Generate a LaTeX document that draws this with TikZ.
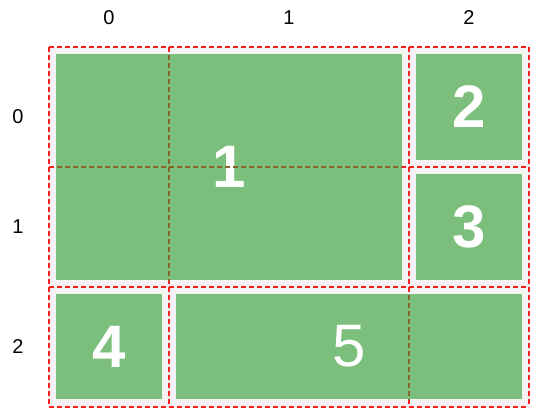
\documentclass[tikz,border=0pt]{standalone}
\usepackage{fontspec}
\setmainfont{Liberation Sans}
\begin{document}
\begin{tikzpicture}[x=1pt,y=-1pt,
  gridline/.style={draw=gridred,line width=1.2pt,dash pattern=on 5pt off 3pt},
  innerline/.style={draw=gridbrown,line width=1.2pt,dash pattern=on 5pt off 3pt},
  item/.style={fill=itemgreen,draw=none,inner sep=0pt,text=white,font=\fontsize{60}{60}\selectfont\bfseries},
  itemreg/.style={item,font=\fontsize{60}{60}\selectfont},
  axislabel/.style={font=\fontsize{20}{20}\selectfont,text=black,inner sep=0pt}]
\definecolor{gridred}{RGB}{255,30,30}
\definecolor{gridbrown}{RGB}{135,100,40}
\definecolor{itemgreen}{RGB}{124,191,124}
\definecolor{bggray}{RGB}{244,244,244}
\useasboundingbox (0,0) rectangle (544,420);
\fill[white] (0,0) rectangle (544,420);
\fill[bggray] (49,47) rectangle (529,407);
% grid lines
\foreach \gx in {49,169,409,529} \draw[gridline] (\gx,47) -- (\gx,407);
\foreach \gy in {47,167,287,407} \draw[gridline] (49,\gy) -- (529,\gy);
% items
\node[item,minimum width=346pt,minimum height=226pt] (i1) at (229,167) {1};
\node[item,minimum width=106pt,minimum height=106pt] (i2) at (469,107) {2};
\node[item,minimum width=106pt,minimum height=106pt] (i3) at (469,227) {3};
\node[item,minimum width=106pt,minimum height=105pt] (i4) at (109,346.5) {4};
\node[itemreg,minimum width=346pt,minimum height=105pt] (i5) at (349,346.5) {5};
% grid lines seen across the items
\begin{scope}
\clip (i1.south west) rectangle (i1.north east);
\draw[innerline] (169,47) -- (169,407);
\draw[innerline] (49,167) -- (529,167);
\end{scope}
\begin{scope}
\clip (i5.south west) rectangle (i5.north east);
\draw[innerline] (409,47) -- (409,407);
\end{scope}
% axis labels
\node[axislabel] (c0) at (109,18) {0};
\node[axislabel] (c1) at (289,18) {1};
\node[axislabel] (c2) at (469,18) {2};
\node[axislabel] (r0) at (18,117) {0};
\node[axislabel] (r1) at (18,227) {1};
\node[axislabel] (r2) at (18,347) {2};
\end{tikzpicture}
\end{document}
